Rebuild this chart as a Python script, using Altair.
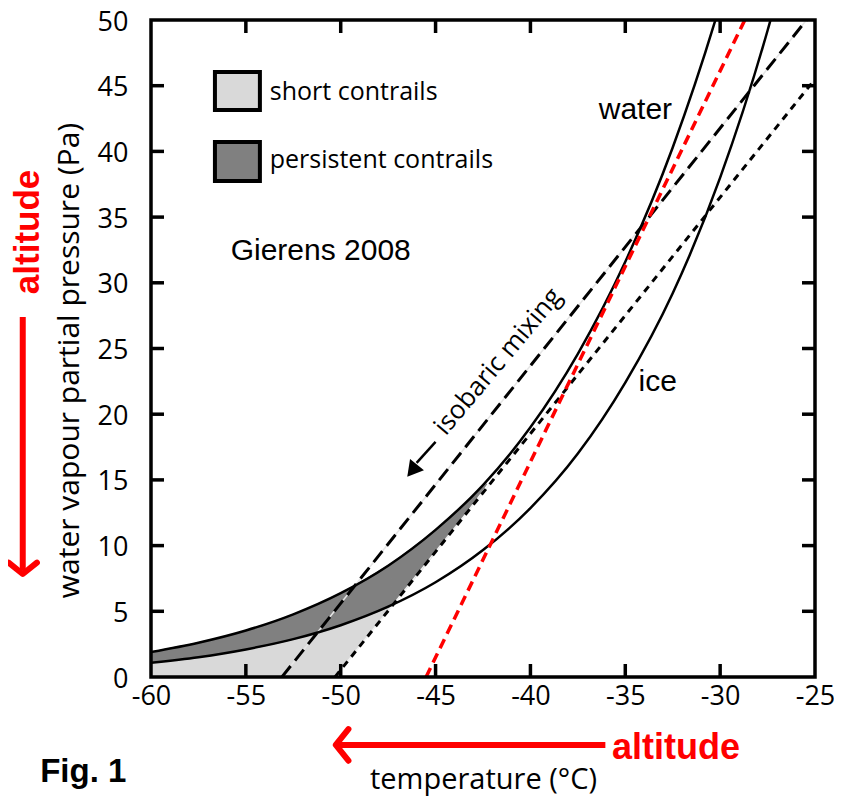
import altair as alt
import pandas as pd

# ---------------- values ----------------
# saturation vapour pressure curves (temperature in degC, pressure in Pa)
water_T = [-60, -57.5, -55, -52.5, -50, -47.5, -45, -42.5, -40, -37.5, -35, -32.5, -30, -27.5]
water_e = [1.90, 2.61, 3.54, 4.77, 6.38, 8.47, 11.2, 14.6, 19.0, 24.6, 31.6, 40.3, 51.2, 64.6]
ice_T = [-60, -57.5, -55, -52.5, -50, -47.5, -45, -42.5, -40, -37.5, -35, -32.5, -30, -27.5, -25]
ice_e = [1.08, 1.51, 2.10, 2.88, 3.94, 5.35, 7.21, 9.66, 12.85, 17.0, 22.4, 29.2, 38.0, 49.2, 63.3]

# straight mixing lines (end points)
long_T = [-53.1, -25.45]
long_e = [0, 50]
short_T = [-50.3, -25.0]
short_e = [0, 45.5]
red_T = [-45.5, -28.7]
red_e = [0, 50]

# shaded regions: segments with lower / upper boundary
light1_T = [-60, -57.5, -55, -52.5, -50.3]
light1_lo = [0, 0, 0, 0, 0]
light1_hi = [1.08, 1.51, 2.10, 2.88, 3.80]
light2_T = [-50.3, -50.0, -47.3]
light2_lo = [0, 0.54, 5.45]
light2_hi = [3.80, 3.94, 5.45]
dark1_T = [-60, -57.5, -55, -52.5, -50, -47.3]
dark1_lo = [1.08, 1.51, 2.10, 2.88, 3.94, 5.45]
dark1_hi = [1.90, 2.61, 3.54, 4.77, 6.38, 8.67]
dark2_T = [-47.3, -45.0, -42.3]
dark2_lo = [5.45, 9.53, 14.7]
dark2_hi = [8.67, 11.2, 14.7]

x_domain = [-60, -25]
y_domain = [0, 50]
x_ticks = [-60, -55, -50, -45, -40, -35, -30, -25]
y_ticks = [0, 5, 10, 15, 20, 25, 30, 35, 40, 45, 50]
x_inner = [-55, -50, -45, -40, -35, -30]
y_inner = [5, 10, 15, 20, 25, 30, 35, 40, 45]

# annotation anchors (in data units)
label_T = [-36.4, -34.3, -55.8]
label_e = [42.5, 21.8, 31.7]
label_txt = ["water", "ice", "Gierens 2008"]
leg_box_T0 = [-56.63, -56.63]
leg_box_T1 = [-54.26, -54.26]
leg_box_e0 = [46.04, 40.72]
leg_box_e1 = [43.15, 37.75]
leg_txt_T = [-53.74, -53.74]
leg_txt_e = [44.52, 39.35]
leg_txt = ["short contrails", "persistent contrails"]
leg_region = ["short", "persistent"]

W, H = 664, 657
FONT = "Open Sans"

xs = alt.Scale(domain=x_domain, nice=False, zero=False)
ys = alt.Scale(domain=y_domain, nice=False, zero=False)

x_axis = alt.Axis(values=x_ticks, title="temperature (°C)", labelExpr="'' + datum.value",
                  labelFont=FONT, labelFontSize=27, labelColor="black", labelPadding=6,
                  ticks=False, domain=False, grid=False, labelFlush=False, labelOverlap=False,
                  titleFont=FONT, titleFontSize=29, titleFontWeight="normal", titleColor="black",
                  titleX=W / 2, titleY=111, titleAlign="center", titleBaseline="alphabetic")
y_axis = alt.Axis(values=y_ticks, title="water vapour partial pressure (Pa)",
                  labelFont=FONT, labelFontSize=27, labelColor="black", labelPadding=23,
                  labelOffset=2,
                  ticks=False, domain=False, grid=False, labelFlush=False, labelOverlap=False,
                  titleFont=FONT, titleFontSize=30, titleFontWeight="normal", titleColor="black",
                  titleX=-82, titleY=340, titleAngle=270, titleAlign="center", titleBaseline="middle")


def X(f):
    return alt.X(f"{f}:Q", scale=xs, axis=x_axis)


def Y(f):
    return alt.Y(f"{f}:Q", scale=ys, axis=y_axis)


# ---------------- tables ----------------
rows = []
for name, reg, T, lo, hi in [("l1", "short", light1_T, light1_lo, light1_hi),
                             ("l2", "short", light2_T, light2_lo, light2_hi),
                             ("d1", "persistent", dark1_T, dark1_lo, dark1_hi),
                             ("d2", "persistent", dark2_T, dark2_lo, dark2_hi)]:
    for t, a, b in zip(T, lo, hi):
        rows.append({"T": t, "lo": a, "hi": b, "region": reg, "seg": name})
areas_df = pd.DataFrame(rows)

fill_scale = alt.Scale(domain=["short", "persistent"], range=["#d9d9d9", "#808080"])

areas = alt.Chart(areas_df).mark_area(interpolate="monotone", clip=True, strokeWidth=1.2).encode(
    x=X("T"), y=Y("lo"), y2="hi",
    color=alt.Color("region:N", scale=fill_scale, legend=None),
    stroke=alt.Stroke("region:N", scale=fill_scale, legend=None),
    detail="seg:N")

water_df = pd.DataFrame({"T": water_T, "e": water_e})
ice_df = pd.DataFrame({"T": ice_T, "e": ice_e})
long_df = pd.DataFrame({"T": long_T, "e": long_e})
short_df = pd.DataFrame({"T": short_T, "e": short_e})
red_df = pd.DataFrame({"T": red_T, "e": red_e})

under_long = alt.Chart(long_df).mark_line(color="#e6e6e6", strokeWidth=1.5, clip=True).encode(x=X("T"), y=Y("e"))
under_short = alt.Chart(short_df).mark_line(color="#f2f2f2", strokeWidth=1.5, clip=True).encode(x=X("T"), y=Y("e"))
long_line = alt.Chart(long_df).mark_line(color="black", strokeWidth=3, strokeDash=[14, 7], clip=True).encode(x=X("T"), y=Y("e"))
short_line = alt.Chart(short_df).mark_line(color="black", strokeWidth=3, strokeDash=[7, 6], clip=True).encode(x=X("T"), y=Y("e"))
water_line = alt.Chart(water_df).mark_line(color="black", strokeWidth=2.5, interpolate="monotone", clip=True).encode(x=X("T"), y=Y("e"))
ice_line = alt.Chart(ice_df).mark_line(color="black", strokeWidth=2.5, interpolate="monotone", clip=True).encode(x=X("T"), y=Y("e"))
red_line = alt.Chart(red_df).mark_line(color="#ff0000", strokeWidth=3.5, strokeDash=[10, 6], clip=True).encode(x=X("T"), y=Y("e"))

frame_df = pd.DataFrame({"T0": [x_domain[0]], "T1": [x_domain[1]], "e0": [y_domain[0]], "e1": [y_domain[1]]})
frame = alt.Chart(frame_df).mark_rect(filled=False, stroke="black", strokeWidth=3.5).encode(
    x=X("T0"), x2="T1", y=Y("e0"), y2="e1")

xt_df = pd.DataFrame({"T": x_inner})
yt_df = pd.DataFrame({"e": y_inner})
tick_style = dict(color="black", strokeWidth=3.5)
tick_b = alt.Chart(xt_df).mark_rule(**tick_style).encode(x=X("T"), y=alt.value(H), y2=alt.value(H - 13))
tick_t = alt.Chart(xt_df).mark_rule(**tick_style).encode(x=X("T"), y=alt.value(0), y2=alt.value(13))
tick_l = alt.Chart(yt_df).mark_rule(**tick_style).encode(y=Y("e"), x=alt.value(0), x2=alt.value(13))
tick_r = alt.Chart(yt_df).mark_rule(**tick_style).encode(y=Y("e"), x=alt.value(W), x2=alt.value(W - 13))

# curve labels
lab_df = pd.DataFrame({"T": label_T, "e": label_e, "txt": label_txt})
labels = alt.Chart(lab_df).mark_text(font="Liberation Sans", fontSize=30, align="left",
                                     baseline="alphabetic", color="black").encode(
    x=X("T"), y=Y("e"), text="txt:N")

# legend
box_df = pd.DataFrame({"T0": leg_box_T0, "T1": leg_box_T1, "e0": leg_box_e0, "e1": leg_box_e1,
                       "region": leg_region})
boxes = alt.Chart(box_df).mark_rect(stroke="black", strokeWidth=4).encode(
    x=X("T0"), x2="T1", y=Y("e0"), y2="e1",
    color=alt.Color("region:N", scale=fill_scale, legend=None))
legt_df = pd.DataFrame({"T": leg_txt_T, "e": leg_txt_e, "txt": leg_txt})
leg_text = alt.Chart(legt_df).mark_text(font=FONT, fontSize=25, align="left", baseline="middle",
                                        color="black").encode(x=X("T"), y=Y("e"), text="txt:N")

# isobaric mixing note
iso_df = pd.DataFrame({"T": [-41.7], "e": [24.0], "txt": ["isobaric mixing"]})
iso_text = alt.Chart(iso_df).mark_text(font=FONT, fontSize=26, angle=310, align="center",
                                       baseline="middle", color="black").encode(
    x=X("T"), y=Y("e"), text="txt:N")
iso_arrow_df = pd.DataFrame({"T0": [-45.0], "T1": [-46.0], "e0": [17.9], "e1": [16.3]})
iso_arrow = alt.Chart(iso_arrow_df).mark_rule(color="black", strokeWidth=2.5).encode(
    x=X("T0"), x2="T1", y=Y("e0"), y2="e1")
iso_head_df = pd.DataFrame({"T": [-46.15], "e": [15.85]})
iso_head = alt.Chart(iso_head_df).mark_point(shape="triangle", filled=True, color="black",
                                             size=320, angle=219, opacity=1).encode(x=X("T"), y=Y("e"))

# red altitude arrows and labels, Fig. 1
harr_df = pd.DataFrame({"T0": [-36.05], "T1": [-50.1], "e0": [-5.17], "e1": [-5.17]})
harr = alt.Chart(harr_df).mark_rule(color="#ff0000", strokeWidth=6).encode(
    x=X("T0"), x2="T1", y=Y("e0"), y2="e1")
hhead = alt.Chart(pd.DataFrame({"T": [-50.26], "e": [-5.17]})).mark_point(
    shape="M0.8,-1L0,0L0.8,1", filled=False, stroke="#ff0000", strokeWidth=6, size=1000,
    strokeCap="round", strokeJoin="round", opacity=1).encode(x=X("T"), y=Y("e"))
varr_df = pd.DataFrame({"T0": [-66.76], "T1": [-66.76], "e0": [27.4], "e1": [8.1]})
varr = alt.Chart(varr_df).mark_rule(color="#ff0000", strokeWidth=6).encode(
    x=X("T0"), x2="T1", y=Y("e0"), y2="e1")
vhead = alt.Chart(pd.DataFrame({"T": [-66.76], "e": [7.84]})).mark_point(
    shape="M-1,-0.8L0,0L1,-0.8", filled=False, stroke="#ff0000", strokeWidth=6, size=800,
    strokeCap="round", strokeJoin="round", opacity=1).encode(x=X("T"), y=Y("e"))

alt_h = alt.Chart(pd.DataFrame({"T": [-35.7], "e": [-5.4], "txt": ["altitude"]})).mark_text(
    font="Liberation Sans", fontWeight="bold", fontSize=36, align="left", baseline="middle",
    color="#ff0000").encode(x=X("T"), y=Y("e"), text="txt:N")
alt_v = alt.Chart(pd.DataFrame({"T": [-66.47], "e": [33.87], "txt": ["altitude"]})).mark_text(
    font="Liberation Sans", fontWeight="bold", fontSize=35, align="center", baseline="middle",
    angle=270, color="#ff0000").encode(x=X("T"), y=Y("e"), text="txt:N")
fig_lab = alt.Chart(pd.DataFrame({"T": [-65.84], "e": [-7.23], "txt": ["Fig. 1"]})).mark_text(
    font="Liberation Sans", fontWeight="bold", fontSize=33, align="left", baseline="middle",
    color="black").encode(x=X("T"), y=Y("e"), text="txt:N")

chart = alt.layer(
    areas, under_long, under_short, long_line, short_line, water_line, ice_line, red_line,
    frame, tick_b, tick_t, tick_l, tick_r,
    labels, boxes, leg_text, iso_text, iso_arrow, iso_head,
    harr, hhead, varr, vhead, alt_h, alt_v, fig_lab
).properties(
    width=W, height=H,
    padding={"left": 143, "top": 12, "right": 19, "bottom": 121},
    autosize=alt.AutoSizeParams(type="none"),
    background="white",
).configure_view(stroke=None)

chart.save("out.html", embed_options={"renderer": "svg", "actions": False})
